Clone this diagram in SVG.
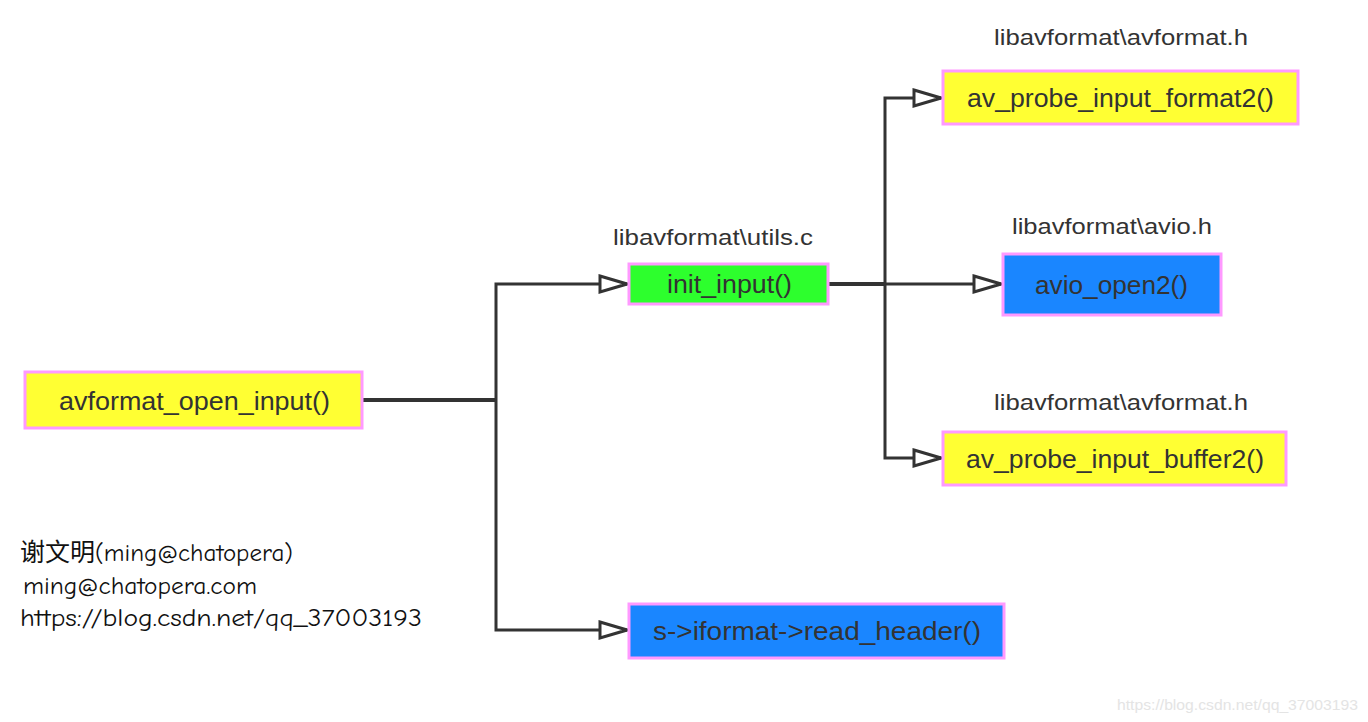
<svg xmlns="http://www.w3.org/2000/svg" width="1368" height="722" viewBox="0 0 1368 722">
<defs>
<marker id="arr" markerUnits="userSpaceOnUse" markerWidth="34" markerHeight="24" viewBox="-2 -12 34 24" refX="28" refY="0" orient="auto">
<path d="M1,-8 L28,0 L1,8 Z" fill="#ffffff" stroke="#333333" stroke-width="3" stroke-linejoin="miter"/>
</marker>
</defs>
<style>
.box{stroke:#ff99ff;stroke-width:3}
.yel{fill:#ffff33}
.grn{fill:#2dff2d}
.blu{fill:#1a86ff}
.t{font-family:"Liberation Sans",Arial,sans-serif;font-size:25px;fill:#333333;text-anchor:middle}
.lbl{font-family:"Liberation Sans",Arial,sans-serif;font-size:22px;fill:#333333;text-anchor:middle}
.c{fill:none;stroke:#333333;stroke-width:3}
.ct{fill:none;stroke:#333333;stroke-width:4}
.au{font-family:"Comic Neue","DejaVu Sans","Noto Sans CJK SC",sans-serif;font-size:25px;fill:#111111}
.wm{font-family:"Liberation Sans",Arial,sans-serif;font-size:15px;fill:#e4e4e4}
</style>
<rect width="1368" height="722" fill="#ffffff"/>
<g id="connectors">
<path class="ct" d="M362,400 H496"/>
<path class="c" d="M496,400 V284 H627" marker-end="url(#arr)"/>
<path class="c" d="M496,400 V630 H627" marker-end="url(#arr)"/>
<path class="ct" d="M828,284 H885"/>
<path class="c" d="M885,284 V98 H941" marker-end="url(#arr)"/>
<path class="c" d="M885,284 H1001" marker-end="url(#arr)"/>
<path class="c" d="M885,284 V458 H941" marker-end="url(#arr)"/>
</g>
<g id="avformat_open_input">
<rect class="box yel" x="25" y="372" width="337" height="56"/>
<text class="t" x="194.5" y="410" textLength="271" lengthAdjust="spacingAndGlyphs">avformat_open_input()</text>
</g>
<g id="init_input">
<text class="lbl" x="713" y="245" textLength="200" lengthAdjust="spacingAndGlyphs">libavformat\utils.c</text>
<rect class="box grn" x="629" y="264" width="199" height="40"/>
<text class="t" x="729.5" y="293" textLength="125" lengthAdjust="spacingAndGlyphs">init_input()</text>
</g>
<g id="av_probe_input_format2">
<text class="lbl" x="1121" y="45" textLength="254" lengthAdjust="spacingAndGlyphs">libavformat\avformat.h</text>
<rect class="box yel" x="943" y="71" width="355" height="53"/>
<text class="t" x="1120.5" y="107" textLength="307" lengthAdjust="spacingAndGlyphs">av_probe_input_format2()</text>
</g>
<g id="avio_open2">
<text class="lbl" x="1112" y="234" textLength="200" lengthAdjust="spacingAndGlyphs">libavformat\avio.h</text>
<rect class="box blu" x="1003" y="254" width="218" height="61"/>
<text class="t" x="1111.5" y="294" textLength="153" lengthAdjust="spacingAndGlyphs">avio_open2()</text>
</g>
<g id="av_probe_input_buffer2">
<text class="lbl" x="1121" y="410" textLength="254" lengthAdjust="spacingAndGlyphs">libavformat\avformat.h</text>
<rect class="box yel" x="943" y="432" width="343" height="53"/>
<text class="t" x="1115" y="468" textLength="298" lengthAdjust="spacingAndGlyphs">av_probe_input_buffer2()</text>
</g>
<g id="read_header">
<rect class="box blu" x="629" y="604" width="375" height="54"/>
<text class="t" x="817" y="640" textLength="328" lengthAdjust="spacingAndGlyphs">s-&gt;iformat-&gt;read_header()</text>
</g>
<g id="author">
<text class="au" x="20" y="561" textLength="273" lengthAdjust="spacingAndGlyphs">谢文明(ming@chatopera)</text>
<text class="au" x="23" y="594" textLength="234" lengthAdjust="spacingAndGlyphs">ming@chatopera.com</text>
<text class="au" x="20" y="626" textLength="402" lengthAdjust="spacingAndGlyphs">https://blog.csdn.net/qq_37003193</text>
</g>
<text class="wm" x="1117" y="710" textLength="241" lengthAdjust="spacingAndGlyphs">https://blog.csdn.net/qq_37003193</text>
</svg>
